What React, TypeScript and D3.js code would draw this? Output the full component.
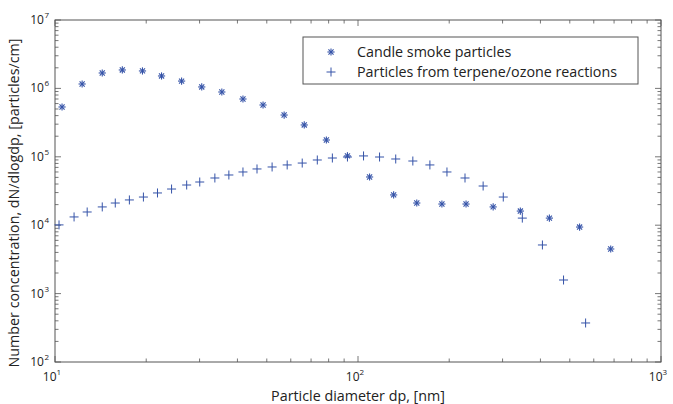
import React from "react";
import * as d3 from "d3";

const candleX = [10.55, 12.29, 14.32, 16.68, 19.44, 22.47, 26.17, 30.5, 35.53, 41.72, 48.6, 57.05, 66.47, 78.63, 92.3, 109.2, 131.1, 156.3, 189.2, 227.3, 279.3, 343.4, 428.2, 538.7, 682.4];
const candleY = [5.35e5, 1.16e6, 1.68e6, 1.86e6, 1.8e6, 1.52e6, 1.28e6, 1.05e6, 8.86e5, 7.0e5, 5.72e5, 4.08e5, 2.92e5, 1.76e5, 1.03e5, 5.07e4, 2.77e4, 2.11e4, 2.04e4, 2.04e4, 1.85e4, 1.61e4, 1.27e4, 9.4e3, 4.49e3];

const terpX = [10.31, 11.56, 12.77, 14.32, 15.81, 17.6, 19.58, 21.79, 24.25, 27.2, 30.04, 33.7, 37.48, 41.72, 46.42, 52.06, 58.38, 65.45, 73.4, 82.3, 92.3, 104.3, 117.8, 133.2, 151.7, 172.7, 196.6, 225.5, 258.8, 301.6, 348.6, 406.1, 476.8, 563.9];
const terpY = [1.01e4, 1.32e4, 1.56e4, 1.85e4, 2.11e4, 2.34e4, 2.58e4, 2.96e4, 3.38e4, 3.87e4, 4.28e4, 4.9e4, 5.42e4, 6.0e4, 6.64e4, 7.1e4, 7.6e4, 8.1e4, 8.98e4, 9.6e4, 9.93e4, 1.03e5, 9.93e4, 9.29e4, 8.68e4, 7.6e4, 6.0e4, 4.9e4, 3.74e4, 2.58e4, 1.27e4, 5.14e3, 1.58e3, 3.72e2];

const xDecades = [1, 2, 3];
const yDecades = [2, 3, 4, 5, 6, 7];
const seriesNames = ["Candle smoke particles", "Particles from terpene/ozone reactions"];

const W = 673, H = 404;
const L = 55, R = 661, T = 20, B = 362;
const COLOR = "#3553a8";
const AXIS = "#555";
const FONT = "'Open Sans', 'DejaVu Sans', sans-serif";

function Star({ x, y }: { x: number; y: number }) {
  const r = 3.6;
  const d = r * 0.707;
  return (
    <g stroke={COLOR} strokeWidth={1.1}>
      <line x1={x - r} y1={y} x2={x + r} y2={y} />
      <line x1={x} y1={y - r} x2={x} y2={y + r} />
      <line x1={x - d} y1={y - d} x2={x + d} y2={y + d} />
      <line x1={x - d} y1={y + d} x2={x + d} y2={y - d} />
    </g>
  );
}

function Plus({ x, y }: { x: number; y: number }) {
  const r = 4.5;
  return (
    <g stroke={COLOR} strokeWidth={1}>
      <line x1={x - r} y1={y} x2={x + r} y2={y} />
      <line x1={x} y1={y - r} x2={x} y2={y + r} />
    </g>
  );
}

export default function App() {
  const x = d3.scaleLog().domain([10, 1000]).range([L, R]);
  const y = d3.scaleLog().domain([100, 1e7]).range([B, T]);

  const xMinor: number[] = [];
  for (let e = 1; e < 3; e++) for (let m = 2; m <= 9; m++) xMinor.push(m * Math.pow(10, e));
  const yMinor: number[] = [];
  for (let e = 2; e < 7; e++) for (let m = 2; m <= 9; m++) yMinor.push(m * Math.pow(10, e));

  return (
    <svg width={W} height={H} style={{ position: "absolute", left: 0, top: 0, background: "#fff" }}>
      <rect x={0} y={0} width={W} height={H} fill="#fff" />
      {/* ticks */}
      <g stroke={AXIS} strokeWidth={0.8}>
        {xDecades.map((e) => {
          const px = x(Math.pow(10, e));
          return (
            <g key={"xm" + e}>
              <line x1={px} y1={B} x2={px} y2={B - 6} />
              <line x1={px} y1={T} x2={px} y2={T + 6} />
            </g>
          );
        })}
        {xMinor.map((v) => (
          <g key={"xn" + v}>
            <line x1={x(v)} y1={B} x2={x(v)} y2={B - 3.5} />
            <line x1={x(v)} y1={T} x2={x(v)} y2={T + 3.5} />
          </g>
        ))}
        {yDecades.map((e) => {
          const py = y(Math.pow(10, e));
          return (
            <g key={"ym" + e}>
              <line x1={L} y1={py} x2={L + 6} y2={py} />
              <line x1={R} y1={py} x2={R - 6} y2={py} />
            </g>
          );
        })}
        {yMinor.map((v) => (
          <g key={"yn" + v}>
            <line x1={L} y1={y(v)} x2={L + 3.5} y2={y(v)} />
            <line x1={R} y1={y(v)} x2={R - 3.5} y2={y(v)} />
          </g>
        ))}
      </g>
      <rect x={L} y={T} width={R - L} height={B - T} fill="none" stroke={AXIS} strokeWidth={1} />

      {/* tick labels */}
      <g fontFamily={FONT} fill="#222">
        {xDecades.map((e) => (
          <text key={"xl" + e} x={x(Math.pow(10, e)) - 3} y={B + 19} textAnchor="middle" fontSize={12}>
            10
            <tspan dy={-6} fontSize={8}>{e}</tspan>
          </text>
        ))}
        {yDecades.map((e) => (
          <text key={"yl" + e} x={L - 6} y={y(Math.pow(10, e)) + 4} textAnchor="end" fontSize={12}>
            10
            <tspan dy={-6} fontSize={8} dx={0.5}>{e}</tspan>
          </text>
        ))}
      </g>

      {/* axis titles */}
      <text x={(L + R) / 2} y={400.5} textAnchor="middle" fontFamily={FONT} fontSize={14.3} fill="#222">
        Particle diameter dp, [nm]
      </text>
      <text
        transform={`translate(19, ${(T + B) / 2 + 12}) rotate(-90)`}
        textAnchor="middle"
        fontFamily={FONT}
        fontSize={14.3}
        fill="#222"
      >
        Number concentration, dN/dlogdp, [particles/cm]
      </text>

      {/* data */}
      <g>
        {terpX.map((v, i) => (
          <Plus key={"t" + i} x={x(v)} y={y(terpY[i])} />
        ))}
        {candleX.map((v, i) => (
          <Star key={"c" + i} x={x(v)} y={y(candleY[i])} />
        ))}
      </g>

      {/* legend */}
      <g>
        <rect x={303} y={37} width={335} height={47} fill="#fff" stroke={AXIS} strokeWidth={1} />
        <Star x={331} y={52} />
        <Plus x={331} y={72} />
        <text x={357} y={57} fontFamily={FONT} fontSize={14.3} fill="#222">{seriesNames[0]}</text>
        <text x={357} y={77} fontFamily={FONT} fontSize={14.3} fill="#222">{seriesNames[1]}</text>
      </g>
    </svg>
  );
}
